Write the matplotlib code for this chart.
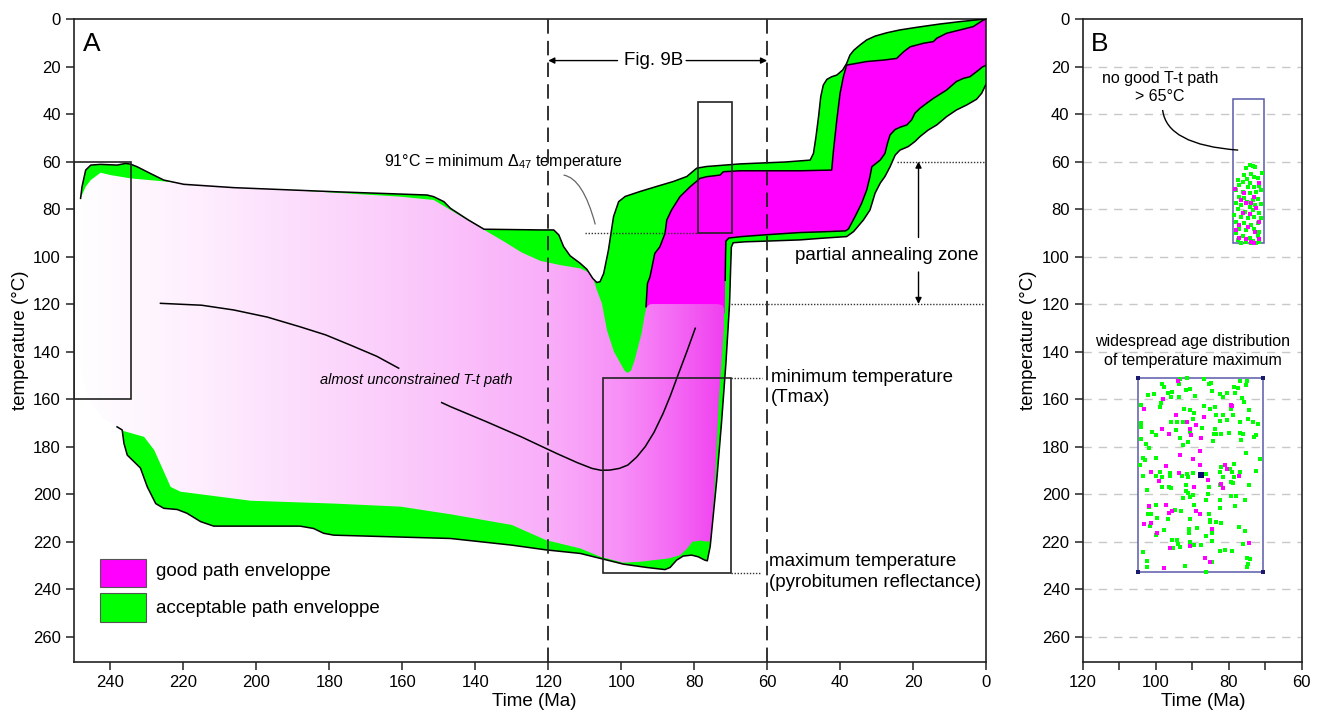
import numpy as np
import matplotlib.pyplot as plt
from matplotlib.patches import Polygon, Rectangle, PathPatch
from matplotlib.path import Path
from matplotlib.colors import to_rgb

plt.rcParams['font.family'] = ['Liberation Sans', 'DejaVu Sans']
plt.rcParams['mathtext.fontset'] = 'custom'
plt.rcParams['mathtext.rm'] = 'Liberation Sans'
plt.rcParams['mathtext.it'] = 'Liberation Sans:italic'

GREEN = '#00ff00'
MAGENTA = '#ff00ff'

# ---------------- panel A envelopes (time in Ma, temperature in degC) ----------------
top_outer_ma = [248.2, 247.8, 246.8, 245.4, 242.7, 238.2, 235.9, 234.5, 232.7, 229.1, 225.4, 219.9,
                206.2, 178.8, 153.2, 151.4, 148.6, 146.8, 142.0, 137.6, 122.2, 118.5, 117.1, 115.8,
                114.0, 111.2, 109.4, 107.8, 106.7, 105.8, 104.8, 103.5, 102.1, 100.7, 98.9, 94.8,
                90.3, 85.7, 82.0, 79.3, 76.6, 67.4, 55.0, 48.2, 47.3, 46.6, 45.9, 45.3, 44.6, 43.6,
                42.3, 40.9, 39.3, 38.2, 37.3, 36.2, 34.5, 32.7, 30.4, 27.2, 23.6, 19.0, 12.6, 7.1, 0.9, 0.0]
top_outer_t = [75.5, 70.6, 63.6, 61.5, 61.2, 61.5, 60.8, 61.1, 62.2, 65.0, 67.8, 69.6,
               71.0, 72.7, 74.1, 74.8, 76.9, 79.7, 84.5, 88.5, 88.8, 88.8, 90.9, 95.8,
               99.7, 102.9, 105.4, 109.2, 110.9, 110.6, 107.1, 97.3, 83.2, 76.9, 74.7, 72.6,
               70.5, 68.4, 66.3, 62.8, 62.1, 61.0, 60.2, 59.4, 56.6, 49.5, 41.1, 32.7, 27.8, 25.4,
               24.3, 23.6, 21.5, 18.7, 15.2, 13.1, 10.9, 8.8, 7.2, 5.8, 4.6, 3.5, 2.1, 1.1, 0.1, 0.0]

low_outer_ma = [0.0, 1.2, 2.6, 5.3, 8.1, 10.8, 13.5, 15.8, 18.1, 19.5, 21.3, 23.6, 24.9, 26.3, 27.7,
                29.0, 30.4, 31.8, 33.6, 36.3, 38.2, 45.0, 51.0, 60.0, 66.0, 69.3, 69.8, 70.0, 70.3,
                71.3, 72.5, 73.8, 74.7, 75.6, 76.4, 77.1, 78.9, 80.7, 83.0, 84.8, 86.6, 88.0, 93.0,
                99.4, 105.7, 111.2, 120.6, 130.0, 146.8, 178.8, 181.6, 184.3, 188.0, 211.7, 215.3,
                219.0, 221.7, 225.4, 227.6, 229.9, 231.8, 235.4, 236.3, 236.8, 238.2]
low_outer_t = [27.5, 31.3, 33.8, 36.2, 38.3, 41.1, 44.6, 46.7, 49.5, 51.6, 53.7, 55.2, 57.3, 62.2, 66.3,
               69.1, 73.3, 80.4, 84.6, 89.5, 91.6, 92.3, 93.0, 93.5, 93.8, 94.2, 96.0, 105.0, 120.0,
               145.0, 170.0, 194.0, 208.0, 222.0, 228.1, 227.8, 226.4, 225.7, 226.1, 227.8, 230.9, 231.8, 230.9,
               229.5, 227.1, 225.0, 223.5, 221.5, 218.7, 217.3, 216.5, 214.5, 213.5, 213.5, 211.6,
               208.1, 206.5, 206.0, 204.0, 197.0, 189.0, 183.6, 178.7, 173.0, 171.7]

good_top_ma = [92.5, 93.2, 92.8, 92.1, 90.8, 89.4, 88.0, 87.5, 86.2, 83.9, 81.1, 78.4, 76.6, 72.9,
               72.0, 67.4, 51.0, 42.3, 41.8, 40.9, 40.0, 39.1, 38.2, 36.3, 32.7, 28.1, 24.5, 22.6,
               20.8, 17.1, 14.4, 13.5, 10.8, 7.1, 3.5, 0.9, 0.0]
good_top_t = [124.0, 121.1, 111.3, 108.5, 98.7, 95.9, 90.3, 84.6, 80.4, 74.8, 70.6, 67.1, 66.4, 65.7,
              64.3, 63.9, 63.9, 63.6, 55.2, 42.5, 31.3, 24.3, 19.4, 18.9, 17.9, 17.3, 16.6, 13.8,
              11.7, 10.2, 9.5, 8.1, 6.0, 4.6, 3.2, 0.6, 0.0]

good_low_ma = [0.0, 0.9, 2.6, 4.4, 6.2, 8.1, 10.8, 14.4, 16.3, 18.1, 19.5, 20.4, 21.7, 23.6, 24.9,
               26.3, 27.0, 27.7, 29.0, 31.3, 31.8, 32.7, 34.1, 35.9, 37.7, 38.5, 45.0, 51.0, 60.0,
               67.0, 70.5, 71.3, 71.4, 71.5, 71.6]
good_low_t = [19.5, 20.1, 22.2, 24.3, 25.0, 26.3, 29.9, 33.4, 35.5, 37.6, 39.7, 42.5, 44.6, 45.6, 46.5,
              48.8, 52.3, 56.6, 59.4, 62.2, 66.3, 72.0, 77.6, 83.2, 88.4, 89.2, 89.6, 89.9, 90.8,
              91.6, 92.2, 93.5, 100.0, 110.0, 124.0]

fade_ma = [248.2, 246.8, 245.4, 242.7, 240.0, 234.5, 224.5, 206.2, 178.8, 160.5, 151.4, 146.8, 142.0,
           137.1, 132.0, 127.4, 122.2, 116.7, 111.2, 108.8, 107.6, 106.7, 105.3, 103.9, 102.0, 100.2,
           99.0, 98.2, 97.3, 96.3, 95.2, 94.4, 93.6, 93.1, 92.3, 91.4, 73.5, 72.3, 71.7, 71.6, 72.3,
           73.2, 74.3, 75.3, 76.0, 78.2, 80.5, 81.9, 83.8, 87.0, 94.8, 99.4, 105.7, 111.2, 120.6,
           130.0, 146.8, 160.5, 178.8, 201.6, 210.7, 220.8, 223.5, 228.0, 230.8, 236.3, 238.2, 242.0,
           246.0, 248.5, 249.7, 249.5]
fade_t = [75.5, 70.6, 67.8, 64.7, 65.7, 67.1, 68.5, 70.6, 73.1, 74.8, 76.2, 80.4, 84.8,
          89.2, 93.8, 98.2, 101.8, 103.6, 105.0, 106.8, 109.5, 114.0, 119.7, 131.0, 140.0, 145.0,
          148.2, 149.0, 148.0, 143.6, 137.0, 132.3, 125.0, 121.5, 120.2, 120.0, 120.0, 120.5, 122.0, 125.0, 140.0,
          160.0, 194.0, 218.7, 220.1, 219.6, 220.1, 222.9, 225.7, 227.1, 228.5, 228.9, 226.4, 222.9, 219.4,
          213.0, 208.5, 205.3, 204.0, 202.8, 201.0, 199.0, 197.0, 181.5, 175.9, 173.5, 171.7, 168.0,
          160.0, 145.0, 110.0, 85.0]

fade_stop_ma = [250, 215, 160, 120, 100, 85, 72]
fade_stop_col = ['#ffffff', '#feeefe', '#fbcbfb', '#f9aef9', '#f78ff7', '#f468f4', '#f040f0']

path1_ma = [226.3, 215.0, 206.2, 197.0, 188.0, 181.0, 174.2, 167.0, 161.0]
path1_t = [119.7, 120.5, 122.5, 125.5, 129.6, 133.0, 137.3, 142.0, 147.0]
path2_ma = [149.2, 146.8, 137.0, 127.4, 117.7, 112.0, 108.0, 105.5, 103.1, 100.5, 98.2, 95.8, 93.4,
            91.0, 88.5, 86.5, 84.6, 82.0, 79.7]
path2_t = [161.5, 163.2, 169.5, 175.9, 182.9, 186.8, 189.2, 190.0, 189.9, 189.2, 187.8, 184.5, 180.0,
           174.0, 166.0, 158.5, 150.6, 140.0, 130.2]

# ---------------- panel B scatter (time in Ma, temperature in degC) ----------------
b_green_ma = [93.4, 91.4, 86.7, 98.4, 97.8, 93.6, 85.4, 84.9, 77.0, 74.9, 78.5, 77.4, 75.3, 91.6, 90.7,
              102.1, 100.5, 96.6, 95.4, 84.5, 82.5, 80.6, 78.4, 81.6, 89.1, 93.7, 95.7, 76.3, 75.8, 98.6,
              103.9, 98.9, 92.3, 90.7, 86.7, 83.8, 85.2, 79.3, 74.5, 89.6, 83.4, 81.6, 78.8, 89.8, 74.7,
              95.7, 94.3, 92.5, 87.3, 83.8, 82.5, 80.6, 77.0, 73.3, 72.0, 103.9, 103.9, 100.9, 100.0,
              94.5, 90.7, 84.1, 83.4, 82.0, 80.0, 77.0, 76.1, 72.6, 73.1, 103.9, 93.4, 76.5, 84.3,
              102.7, 101.8, 92.5, 91.1, 75.2, 71.5, 100.0, 103.5, 103.0, 104.2, 82.0, 78.5, 79.7,
              103.5, 100.0, 98.7, 98.2, 96.0, 96.0, 92.7, 91.3, 91.1, 89.9, 86.3, 82.5, 81.6, 79.0,
              78.6, 77.0, 79.5, 78.8, 72.6, 74.4, 102.5, 98.2, 96.3, 95.7, 91.8, 91.6, 91.1, 89.9,
              90.5, 92.5, 85.4, 85.7, 82.3, 79.4, 77.9, 75.6, 86.1, 82.3, 89.6, 78.3, 82.3, 99.8,
              101.8, 102.1, 101.2, 99.6, 96.6, 94.8, 93.2, 90.7, 85.5, 85.2, 85.0, 83.6, 82.0, 101.6,
              99.8, 97.8, 90.9, 90.9, 88.7, 84.5, 86.1, 77.2, 75.6, 95.4, 94.1, 93.9, 95.2, 93.4,
              90.5, 89.6, 87.5, 84.7, 82.3, 81.1, 79.1, 76.2, 103.5, 102.5, 102.5, 92.0, 84.5, 75.0,
              74.2, 74.7, 74.9, 86.3,
              74.3, 73.4, 75.3, 72.7, 70.9, 75.7, 73.9, 73.0, 77.5, 76.2, 75.1, 74.3, 72.1, 77.1, 74.8,
              73.0, 71.6, 78.0, 76.2, 74.2, 72.5, 71.2, 77.3, 75.7, 75.1, 73.4, 72.1, 78.0, 76.6, 74.3,
              72.7, 71.2, 77.5, 75.4, 73.4, 71.8, 78.5, 76.6, 74.8, 73.0, 71.2, 78.0, 75.7, 73.9, 72.1,
              77.1, 75.3, 73.0, 71.6, 78.0, 76.2, 74.3, 72.1, 77.5, 75.3, 73.4, 71.6, 76.6, 73.9, 72.5]
b_green_t = [151.7, 151.1, 151.4, 153.5, 154.9, 153.8, 153.5, 153.1, 152.5, 152.5, 154.9, 155.2, 154.2,
             156.3, 155.9, 158.1, 157.7, 157.3, 157.0, 156.7, 158.0, 157.3, 157.3, 159.1, 158.7, 159.1,
             159.1, 159.6, 161.2, 161.5, 162.6, 163.3, 164.0, 164.7, 162.9, 163.3, 164.3, 164.3, 164.7,
             165.7, 166.9, 166.6, 166.6, 168.3, 168.3, 169.7, 169.7, 169.7, 172.0, 172.5, 169.4, 169.0,
             169.7, 169.7, 170.4, 169.9, 171.8, 173.9, 175.0, 173.2, 173.9, 174.6, 174.6, 174.9, 174.2,
             174.3, 174.6, 175.3, 176.1, 176.7, 176.3, 177.1, 177.7, 178.8, 180.6, 179.5, 178.1, 182.7,
             185.1, 184.7, 184.8, 185.8, 187.9, 188.6, 187.2, 189.3,
             192.4, 192.4, 190.6, 192.7, 191.3, 192.4, 192.4, 191.6, 192.7, 191.0, 191.6, 190.6, 192.7,
             190.6, 192.7, 190.6, 194.8, 195.5, 190.3, 196.2, 198.3, 197.2, 197.2, 197.6, 196.2, 198.6,
             199.4, 200.4, 201.1, 201.6, 197.2, 200.0, 196.2, 200.9, 200.9, 202.3, 202.3, 202.3, 204.6,
             205.1, 206.0, 204.6, 205.6, 208.6, 208.6, 210.0, 210.3, 206.7, 207.2, 210.5, 208.2, 211.0,
             211.7, 211.9, 212.1, 213.5, 217.3, 215.2, 214.7, 216.6, 214.2, 216.6, 217.7, 214.0, 215.7,
             219.4, 219.4, 221.1, 222.5, 222.2, 220.1, 221.5, 221.5, 219.8, 223.9, 223.6, 223.9, 221.1,
             224.6, 228.1, 230.9, 230.3, 228.8, 226.8, 227.5, 229.5, 230.9, 232.7,
             61.5, 61.9, 62.9, 62.5, 64.7, 65.7, 65.3, 66.4, 67.8, 68.5, 67.5, 69.2, 67.1, 69.9, 70.6,
             70.9, 70.3, 72.0, 72.7, 73.1, 72.7, 72.0, 74.8, 75.5, 76.9, 76.2, 75.9, 77.6, 78.3, 79.0,
             78.3, 77.9, 80.1, 81.1, 80.4, 81.6, 82.5, 83.2, 83.9, 83.2, 83.9, 85.3, 86.0, 86.8, 86.0,
             88.2, 88.9, 88.6, 89.6, 90.3, 91.4, 92.0, 91.4, 93.1, 93.8, 93.4, 93.8, 94.3, 94.5, 94.3]

b_magenta_ma = [93.9, 98.0, 103.3, 79.3, 79.1, 94.5, 86.7, 91.4, 89.0, 90.5, 98.2, 96.3, 90.2, 87.5,
                87.9, 93.4, 89.9, 87.8, 97.3, 81.1, 80.6,
                101.2, 93.7, 99.1, 89.6, 85.7, 82.0, 81.6, 77.2, 101.8, 97.3, 96.3, 95.4, 88.9, 87.9,
                103.3, 101.2, 99.6, 84.5, 96.2, 90.5, 74.4, 86.6, 85.0, 97.7,
                71.6, 78.2, 75.7, 73.0, 75.3, 76.6, 73.9, 72.5, 76.2, 74.3, 71.6, 77.1, 74.8, 72.7, 77.1,
                75.3, 73.0, 73.9, 71.6, 78.0]
b_magenta_t = [152.4, 160.1, 164.3, 162.4, 163.1, 166.9, 167.6, 169.7, 171.1, 172.5, 172.5, 174.6, 175.3,
               176.3, 181.9, 183.4, 185.4, 187.9, 188.2, 187.9, 189.3,
               190.6, 191.3, 194.4, 196.9, 194.1, 195.8, 197.6, 192.4, 205.1, 204.6, 207.9, 207.2, 207.2,
               208.6, 212.8, 212.1, 216.3, 214.5, 222.5, 221.9, 220.5, 227.1, 228.8, 231.3,
               69.2, 71.7, 73.4, 74.8, 77.6, 76.2, 77.3, 79.7, 81.8, 82.1, 85.3, 86.8, 87.5, 89.6, 92.0,
               92.8, 94.3, 93.8, 92.8, 88.9]
b_best_ma = [87.5]
b_best_t = [191.9]

fig = plt.figure(figsize=(13.21, 7.14), dpi=100)
axA = fig.add_axes([74 / 1321, 52 / 714, 912 / 1321, 643 / 714])
axB = fig.add_axes([1082.7 / 1321, 52 / 714, 219 / 1321, 643 / 714])

for ax in (axA, axB):
    ax.set_ylim(270.7, 0)
    ax.set_yticks(np.arange(0, 261, 20))
    for s in ax.spines.values():
        s.set_linewidth(1.2)
        s.set_color('#222222')
    ax.tick_params(direction='out', length=6, width=1.1, labelsize=12, color='#222222')
    ax.set_ylabel('temperature (°C)', fontsize=13.5)
    ax.set_xlabel('Time (Ma)', fontsize=13.5)

# ---------------- panel A ----------------
axA.set_xlim(250, 0)
axA.set_xticks(np.arange(240, -1, -20))
axA.yaxis.set_label_coords(-45 / 912, 0.5)
axA.xaxis.set_label_coords(0.505, -31.5 / 643)

acc = Polygon(np.column_stack([top_outer_ma + low_outer_ma, top_outer_t + low_outer_t]),
              closed=True, facecolor=GREEN, edgecolor='none', zorder=1)
axA.add_patch(acc)
good = Polygon(np.column_stack([good_top_ma + good_low_ma, good_top_t + good_low_t]),
               closed=True, facecolor=MAGENTA, edgecolor='none', zorder=1.5)
axA.add_patch(good)

fade = Polygon(np.column_stack([fade_ma, fade_t]), closed=True, facecolor='none',
               edgecolor='none', zorder=2)
axA.add_patch(fade)
xs = np.linspace(250, 72, 500)
cols = np.array([to_rgb(c) for c in fade_stop_col])
img = np.stack([np.interp(xs, fade_stop_ma[::-1], cols[::-1, k]) for k in range(3)], axis=-1)[None]
im = axA.imshow(img, extent=(250, 72, 270, 0), aspect='auto', zorder=2, interpolation='bilinear')
im.set_clip_path(fade)

lk = dict(color='black', lw=1.1, zorder=3, solid_joinstyle='round')
axA.plot(top_outer_ma, top_outer_t, **lk)
axA.plot(low_outer_ma, low_outer_t, **lk)
axA.plot(good_top_ma[1:], good_top_t[1:], **lk)
axA.plot(good_low_ma[:-1], good_low_t[:-1], **lk)

axA.plot(path1_ma, path1_t, color='black', lw=1.1, zorder=4)
axA.plot(path2_ma, path2_t, color='black', lw=1.1, zorder=4)
axA.text(182.5, 152, 'almost unconstrained T-t path', fontsize=10.5, style='italic',
         va='center', ha='left', zorder=5)

# boxes
for (x0, x1, y0, y1) in [(250, 234.5, 60, 160), (105, 70, 151, 233.4), (79, 69.5, 35, 90)]:
    axA.add_patch(Rectangle((x1, y0), x0 - x1, y1 - y0, fill=False, edgecolor='#222222',
                            lw=1.2, zorder=5))

# dashed Fig. 9B limits
for xv in (120, 60):
    axA.axvline(xv, color='#222222', lw=1.3, ls=(0, (8, 4)), zorder=4)
axA.text(91.2, 17.5, 'Fig. 9B', fontsize=13.5, ha='center', va='center')
ap = dict(arrowstyle='-|>', color='black', lw=1, mutation_scale=9, shrinkA=0, shrinkB=0)
axA.annotate('', xy=(120, 17.5), xytext=(101.0, 17.5), arrowprops=ap)
axA.annotate('', xy=(60, 17.5), xytext=(82.2, 17.5), arrowprops=ap)

# 91 degC annotation
axA.text(164.9, 60.2, '91°C = minimum Δ$_{47}$ temperature', fontsize=11.5, va='center', ha='left')
axA.add_patch(PathPatch(Path([(115.8, 65.7), (110.5, 67.0), (107.1, 86.5)],
                             [Path.MOVETO, Path.CURVE3, Path.CURVE3]),
                        fc='none', ec='#666666', lw=0.9, zorder=5))
axA.plot([109.9, 79], [90, 90], color='#333333', lw=1, ls=(0, (1, 1.2)), zorder=5)

# partial annealing zone
axA.plot([24.5, 0], [60, 60], color='#333333', lw=1, ls=(0, (1, 1.2)), zorder=5)
axA.plot([70, 0], [120, 120], color='#333333', lw=1, ls=(0, (1, 1.2)), zorder=5)
axA.annotate('', xy=(18.5, 60), xytext=(18.5, 92), arrowprops=ap)
axA.annotate('', xy=(18.5, 120), xytext=(18.5, 106.5), arrowprops=ap)
axA.text(27.1, 99.4, 'partial annealing zone', fontsize=13.5, ha='center', va='center')

# Tmax annotations
axA.plot([70, 61.3], [151, 151], color='#333333', lw=1, ls=(0, (1, 1.2)), zorder=5)
axA.plot([70, 61.8], [233.4, 233.4], color='#333333', lw=1, ls=(0, (1, 1.2)), zorder=5)
axA.text(59.0, 151, 'minimum temperature', fontsize=13.5, va='center')
axA.text(59.0, 159.3, '(Tmax)', fontsize=13.5, va='center')
axA.text(59.6, 228.6, 'maximum temperature', fontsize=13.5, va='center')
axA.text(59.6, 237.1, '(pyrobitumen reflectance)', fontsize=13.5, va='center')

# legend
axA.add_patch(Rectangle((230.2, 227.5), 12.8, 11.8, facecolor=MAGENTA, edgecolor='#555555',
                        lw=0.8, zorder=5))
axA.add_patch(Rectangle((230.2, 241.8), 12.8, 12.0, facecolor=GREEN, edgecolor='#555555',
                        lw=0.8, zorder=5))
axA.text(227.4, 232.6, 'good path enveloppe', fontsize=13.5, va='center')
axA.text(227.4, 248.0, 'acceptable path enveloppe', fontsize=13.5, va='center')

axA.text(0.01, 0.98, 'A', transform=axA.transAxes, fontsize=19, va='top', ha='left')

# ---------------- panel B ----------------
axB.set_xlim(120, 60)
axB.set_xticks(np.arange(60, 121, 10))
axB.set_xticklabels(['60', '', '80', '', '100', '', '120'])
axB.yaxis.set_label_coords(-46 / 219, 0.5)
axB.xaxis.set_label_coords(0.55, -31.5 / 643)
for yv in range(20, 261, 20):
    axB.axhline(yv, color='#c8c8c8', lw=1, ls=(0, (6, 5)), zorder=0)

box_col = '#5a5aa8'
axB.add_patch(Rectangle((70.25, 33.8), 8.65, 60.7, fill=False, edgecolor=box_col, lw=1.1, zorder=2))
axB.add_patch(Rectangle((70.5, 151.3), 34.3, 81.7, fill=False, edgecolor=box_col, lw=1.1, zorder=2))
axB.scatter([104.8, 70.5, 104.8, 70.5], [151.3, 151.3, 233.0, 233.0], marker='s', s=8,
            color='#1a1a6e', lw=0, zorder=3)

axB.scatter(b_green_ma, b_green_t, marker='s', s=7, color=GREEN, lw=0, zorder=3)
axB.scatter(b_magenta_ma, b_magenta_t, marker='s', s=7, color=MAGENTA, lw=0, zorder=3)
axB.scatter(b_best_ma, b_best_t, marker='s', s=22, color='#0a0a6e', lw=0, zorder=4)

axB.text(98.8, 25.0, 'no good T-t path', fontsize=11.5, ha='center', va='center')
axB.text(98.8, 32.7, '> 65°C', fontsize=11.5, ha='center', va='center')
axB.add_patch(PathPatch(Path([(98.1, 38.3), (97.0, 53.0), (77.4, 55.2)],
                             [Path.MOVETO, Path.CURVE3, Path.CURVE3]),
                        fc='none', ec='black', lw=1, zorder=5))
axB.text(89.9, 135.9, 'widespread age distribution', fontsize=11.5, ha='center', va='center')
axB.text(89.9, 143.6, 'of temperature maximum', fontsize=11.5, ha='center', va='center')
axB.text(0.037, 0.98, 'B', transform=axB.transAxes, fontsize=19, va='top', ha='left')

fig.savefig('out.png', dpi=100)
